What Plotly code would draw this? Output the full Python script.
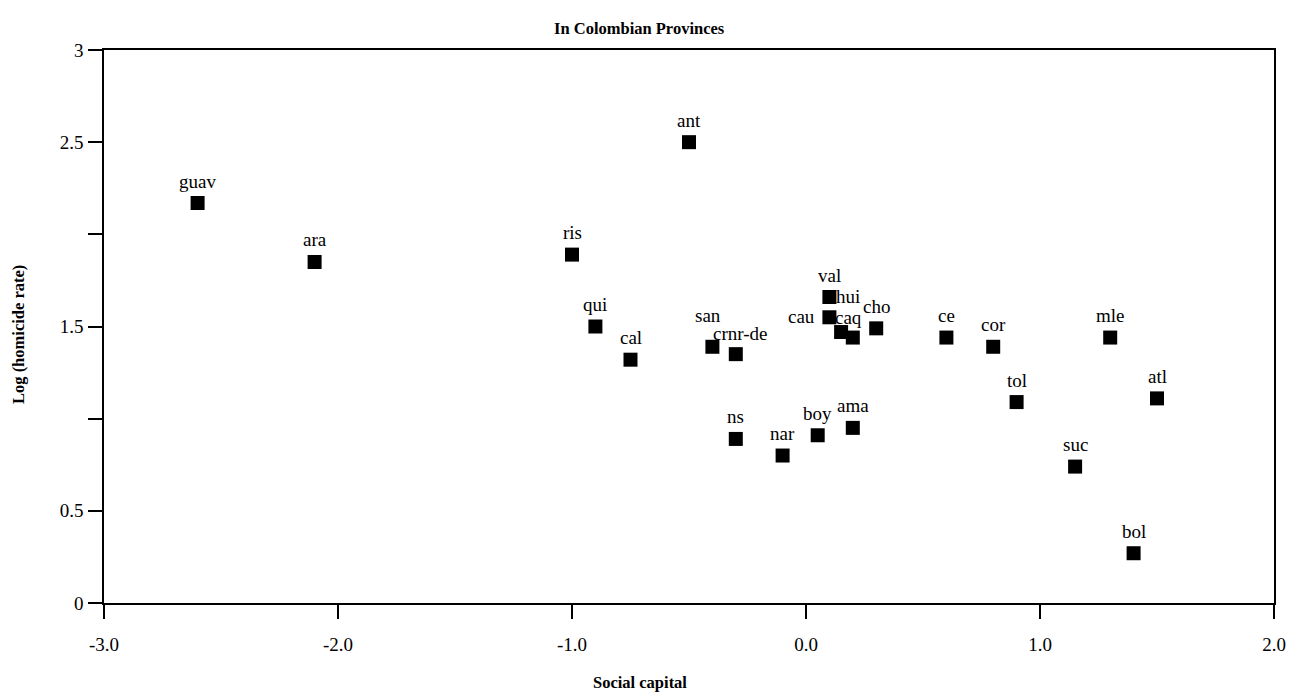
import plotly.graph_objects as go

# Province codes, social capital index and log homicide rate
provinces = ["guav", "ara", "ant", "ris", "qui", "cal", "san", "crnr-de",
             "val", "cau", "hui", "caq", "cho", "ns", "nar", "boy", "ama",
             "ce", "cor", "tol", "mle", "atl", "suc", "bol"]
social_capital = [-2.60, -2.10, -0.50, -1.00, -0.90, -0.75, -0.40, -0.30,
                  0.10, 0.10, 0.15, 0.20, 0.30, -0.30, -0.10, 0.05, 0.20,
                  0.60, 0.80, 0.90, 1.30, 1.50, 1.15, 1.40]
log_homicide = [2.17, 1.85, 2.50, 1.89, 1.50, 1.32, 1.39, 1.35,
                1.66, 1.55, 1.47, 1.44, 1.49, 0.89, 0.80, 0.91, 0.95,
                1.44, 1.39, 1.09, 1.44, 1.11, 0.74, 0.27]

x_ticks = [-3, -2, -1, 0, 1, 2]
x_tick_text = ["-3.0", "-2.0", "-1.0", "0.0", "1.0", "2.0"]
y_ticks = [0, 0.5, 1, 1.5, 2, 2.5, 3]
y_tick_text = ["0", "0.5", "", "1.5", "", "2.5", "3"]

SERIF = "Liberation Serif"

# label offsets in pixels (default: centred above the marker)
label_offset = {"cau": (-28, 1), "hui": (7, 36), "caq": (-4, 20),
                "san": (-4, 31), "crnr-de": (4, 21)}

fig = go.Figure()
fig.add_trace(go.Scatter(
    x=social_capital, y=log_homicide, mode="markers",
    marker=dict(symbol="square", size=14, color="black", line=dict(width=0)),
    hoverinfo="text", text=provinces, showlegend=False,
))

for name, xv, yv in zip(provinces, social_capital, log_homicide):
    dx, dy = label_offset.get(name, (0, 22))
    fig.add_annotation(x=xv, y=yv, text=name, showarrow=False,
                       xshift=dx, yshift=dy, xanchor="center", yanchor="middle",
                       borderpad=0,
                       font=dict(family=SERIF, size=19, color="black"))

axis_common = dict(showline=True, linecolor="black", linewidth=1.5, mirror=True,
                   showgrid=False, zeroline=False, ticks="outside", ticklen=14,
                   tickwidth=1.5, tickcolor="black",
                   tickfont=dict(family=SERIF, size=19, color="black"))

fig.update_xaxes(range=[-3, 2], tickvals=x_ticks, ticktext=x_tick_text,
                 ticklabelstandoff=9, **axis_common)
fig.update_yaxes(range=[0, 3], tickvals=y_ticks, ticktext=y_tick_text,
                 ticklabelstandoff=1, **axis_common)

fig.add_annotation(xref="paper", yref="paper", x=0.458, y=1.0, yshift=33,
                   text="<b>In Colombian Provinces</b>", showarrow=False,
                   font=dict(family=SERIF, size=16.5, color="black"))
fig.add_annotation(xref="paper", yref="paper", x=0.458, y=0, yshift=-91,
                   text="<b>Social capital</b>", showarrow=False,
                   font=dict(family=SERIF, size=16.5, color="black"))
fig.add_annotation(xref="paper", yref="paper", x=0, xshift=-97, y=0.5, yshift=-8,
                   text="<b>Log (homicide rate)</b>", showarrow=False, textangle=-90,
                   font=dict(family=SERIF, size=16.5, color="black"))

fig.update_layout(width=1301, height=692,
                  margin=dict(l=104, r=27, t=50, b=89),
                  paper_bgcolor="white", plot_bgcolor="white")

fig.write_html("out.html")
